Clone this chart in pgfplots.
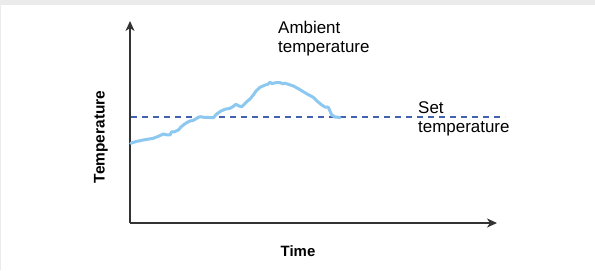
\documentclass[border=0pt]{standalone}
\usepackage{pgfplots}
\pgfplotsset{compat=1.18}
\usepackage{fontspec}
\setmainfont{Liberation Sans}
\usetikzlibrary{arrows.meta}
\definecolor{bggrey}{HTML}{EBEBEB}
\definecolor{curveblue}{HTML}{8DC8F0}
\definecolor{setblue}{HTML}{4262B0}
\definecolor{axisgrey}{HTML}{333333}
\begin{document}
\begin{tikzpicture}[x=1bp,y=1bp]
\fill[bggrey] (0,0) rectangle (595,270);
\fill[white] (1,0) rectangle (595,265);
\begin{axis}[
  at={(130bp,47bp)}, anchor=origin,
  scale only axis, width=367bp, height=202bp,
  xmin=130, xmax=497, ymin=0, ymax=202,
  axis lines=left,
  axis line style={draw=axisgrey, line width=1.8bp},
  x axis line style={-{Stealth[length=10bp,width=9bp,inset=3bp]}},
  y axis line style={-{Stealth[length=10bp,width=9bp,inset=3bp]}},
  xtick=\empty, ytick=\empty,
  clip=false,
]
\addplot[draw=setblue, line width=2.2bp, dash pattern=on 6bp off 5bp] coordinates {(131,106) (505,106)};
\addplot[draw=curveblue, line width=3bp, line join=round, line cap=round] coordinates {
(130.7,79.7) (136,81.5) (143.3,83) (148,83.8) (153.3,84.7) (158,86.5) (163.3,89) (166,88.3) (170,88) (171.7,91.3) (174,91) (178.3,93) (181,96) (183.3,98) (187,100.5) (190,102) (193,102.5) (196.7,104.7) (200,106.3) (205,105.5) (209,105.5) (213.3,105.3) (216.7,109) (221,112) (225,113.7) (230,114.7) (233,116.5) (236,118.7) (239,117) (241.7,116.3) (244,118.5) (246.7,121.3) (250,124) (253.3,128) (256,132) (260,135.7) (264,137.5) (268.3,139) (270,140.7) (272,139.5) (276,140.3) (280,140.3) (283,139.3) (285,139.7) (289,138.5) (293.3,137) (298,134.5) (303.3,131.3) (308,128.5) (313.3,125.7) (317,122) (321.7,118) (325,116) (328.3,115.7) (330,112) (331.7,108) (335,106) (338.3,105.7) (340,105.3)
};
\end{axis}
\node[anchor=base west, inner sep=0pt, font=\fontsize{17}{19}\selectfont, align=left] at (278,218) {Ambient\\temperature};
\node[anchor=base west, inner sep=0pt, font=\fontsize{17}{19}\selectfont, align=left] at (418,138) {Set\\temperature};
\node[anchor=base, inner sep=0pt, font=\fontsize{15}{18}\selectfont\bfseries] at (298,14) {Time};
\node[rotate=90, inner sep=0pt, font=\fontsize{15.5}{18}\selectfont\bfseries] at (101,133) {Temperature};
\end{tikzpicture}
\end{document}
